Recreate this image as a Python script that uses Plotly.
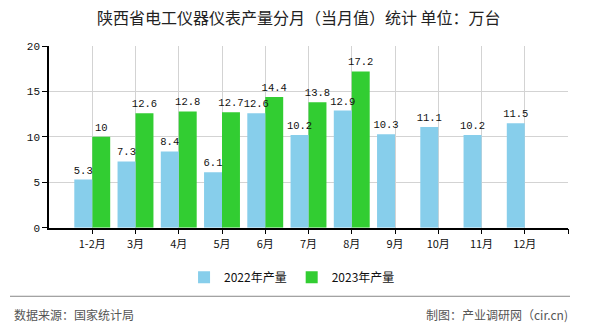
import plotly.graph_objects as go

months = ["1-2月", "3月", "4月", "5月", "6月", "7月", "8月", "9月", "10月", "11月", "12月"]
prod_2022 = [5.3, 7.3, 8.4, 6.1, 12.6, 10.2, 12.9, 10.3, 11.1, 10.2, 11.5]
prod_2023 = [10, 12.6, 12.8, 12.7, 14.4, 13.8, 17.2, None, None, None, None]
series_names = ["2022年产量", "2023年产量"]
y_ticks = [0, 5, 10, 15, 20]

idx = list(range(len(months)))
CJK = "Noto Sans CJK SC"
MONO = "Liberation Mono"
BAR_W = 0.415

fig = go.Figure()
# 2023 added first so 2022 labels draw above the green bars (as in the reference)
for name, vals, color, off in [(series_names[1], prod_2023, "#32CD32", 0.0),
                               (series_names[0], prod_2022, "#87CEEB", -BAR_W)]:
    fig.add_trace(go.Bar(
        x=idx, y=vals, name=name, marker=dict(color=color, line=dict(width=0)),
        width=BAR_W, offset=off,
        text=[("%g" % v) if v is not None else "" for v in vals],
        textposition="outside", cliponaxis=False, constraintext="none",
        textfont=dict(family=MONO, size=10.5, color="#111"),
    ))

fig.update_layout(
    width=590, height=330,
    margin=dict(l=49, r=22, t=46, b=101),
    paper_bgcolor="white", plot_bgcolor="white",
    barmode="overlay",
    uniformtext=dict(minsize=10.5, mode="show"),
    font=dict(family=CJK, size=11, color="#111"),
    showlegend=True,
    legend=dict(orientation="h", xref="container", yref="container",
                x=0.495, xanchor="center", y=0.16, yanchor="middle",
                font=dict(family=CJK, size=12, color="#111"),
                itemwidth=30, traceorder="reversed"),
    xaxis=dict(
        range=[-1, 11], tickvals=list(range(12)), ticktext=months + [""],
        showgrid=True, gridcolor="#d3d3d3", gridwidth=1,
        showline=True, linecolor="#000", linewidth=1.5,
        ticks="outside", ticklen=5, tickcolor="#000",
        tickfont=dict(family=CJK, size=11, color="#111"),
        zeroline=False, fixedrange=True,
    ),
    yaxis=dict(
        range=[0, 20], tickvals=y_ticks,
        showgrid=True, gridcolor="#d3d3d3", gridwidth=1,
        showline=True, linecolor="#000", linewidth=1.5,
        ticks="outside", ticklen=5, tickcolor="#000",
        tickfont=dict(family=MONO, size=11, color="#111"),
        zeroline=False, fixedrange=True,
    ),
)

fig.add_annotation(text="陕西省电工仪器仪表产量分月（当月值）统计 单位：万台",
                   xref="paper", yref="paper", x=(299 - 49) / 519, y=(229 - 17) / 183,
                   xanchor="center", yanchor="middle", showarrow=False,
                   font=dict(family=CJK, size=16, color="#222"))
fig.add_shape(type="line", xref="paper", yref="paper",
              x0=(10 - 49) / 519, x1=(570 - 49) / 519,
              y0=(229 - 298) / 183, y1=(229 - 298) / 183,
              line=dict(color="#888", width=1))
fig.add_annotation(text="数据来源：国家统计局", xref="paper", yref="paper",
                   x=(12 - 49) / 519, y=(229 - 316) / 183, xanchor="left", yanchor="middle",
                   showarrow=False, font=dict(family=CJK, size=12, color="#555"))
fig.add_annotation(text="制图：产业调研网（cir.cn)", xref="paper", yref="paper",
                   x=(570 - 49) / 519, y=(229 - 316) / 183, xanchor="right", yanchor="middle",
                   showarrow=False, font=dict(family=CJK, size=12, color="#555"))

fig.write_html("out.html")
